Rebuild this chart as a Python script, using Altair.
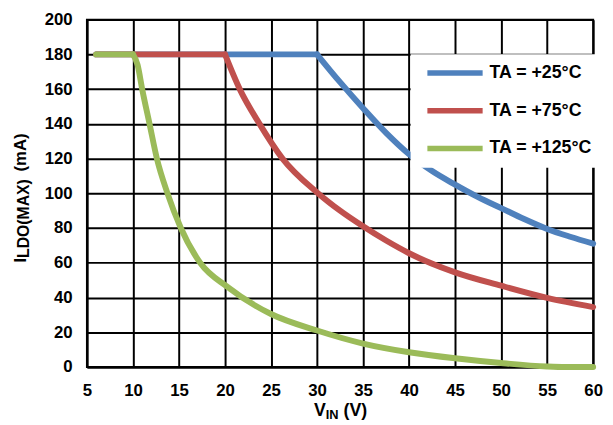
import altair as alt
import pandas as pd

series_names = ["TA = +25°C", "TA = +75°C", "TA = +125°C"]
series_colors = ["#4F81BD", "#C0504D", "#9BBB59"]

# x where each curve leaves the 180 mA limit
knee_vin = [30, 20, 10]

vin_25 = [6, 10, 15, 20, 25, 30, 32.5, 35, 37.5, 40, 42.5, 45, 47.5, 50, 52.5, 55, 57.5, 60]
ildo_25 = [180, 180, 180, 180, 180, 180, 164, 149, 134.8, 122.5, 112.8, 105, 97.8, 91.5, 85.2, 79.5, 75, 71]

vin_75 = [6, 10, 15, 20, 21.6, 23.75, 26.25, 30, 32.5, 35, 37.5, 40, 45, 50, 55, 60]
ildo_75 = [180, 180, 180, 180, 160, 140, 120, 100.5, 90, 81, 72.8, 65.5, 54.5, 46.8, 39.8, 34.5]

vin_125 = [6, 8, 10, 10.5, 11, 11.8, 12.6, 13.75, 15.2, 17.3, 20.3, 25, 30, 35, 40, 45, 50, 55, 57, 60]
ildo_125 = [180, 180, 180, 174, 160, 140, 120, 100, 80, 60, 46, 30.5, 21, 13.5, 8.5, 5, 2.3, 0.3, 0, 0]

x_ticks = [5, 10, 15, 20, 25, 30, 35, 40, 45, 50, 55, 60]
y_ticks = [0, 20, 40, 60, 80, 100, 120, 140, 160, 180, 200]

y_title_parts = ["I", "LDO(MAX)", "(mA)"]
x_title_parts = ["V", "IN", "(V)"]

FONT = "Liberation Sans"

rows = []
for s, (name, knee, xs, ys) in enumerate(zip(series_names, knee_vin,
                                             [vin_25, vin_75, vin_125],
                                             [ildo_25, ildo_75, ildo_125])):
    for i, (xv, yv) in enumerate(zip(xs, ys)):
        if xv <= knee:
            rows.append({"series": name, "vin": xv, "ildo": yv, "i": i, "key": f"{s}a"})
        if xv >= knee:
            rows.append({"series": name, "vin": xv, "ildo": yv, "i": i, "key": f"{s}b"})
df = pd.DataFrame(rows)

lines = alt.Chart(df).mark_line(
    strokeWidth=6, strokeCap="round", strokeJoin="round", interpolate="monotone"
).encode(
    x=alt.X("vin:Q", scale=alt.Scale(domain=[5, 60], nice=False),
            axis=alt.Axis(values=x_ticks, title=None, labelPadding=16, labelFlush=False)),
    y=alt.Y("ildo:Q", scale=alt.Scale(domain=[0, 200], nice=False),
            axis=alt.Axis(values=y_ticks, title=None, labelPadding=15)),
    color=alt.Color("series:N", scale=alt.Scale(domain=series_names, range=series_colors),
                    legend=alt.Legend(
                        title=None, orient="none", legendX=328, legendY=35,
                        fillColor="white", padding=10, clipHeight=18, rowPadding=20.3,
                        symbolType="stroke", symbolSize=3136, symbolStrokeWidth=5.5,
                        symbolOffset=4,
                        labelFont=FONT, labelFontSize=18, labelFontWeight="bold",
                        labelColor="black", labelOffset=4, labelLimit=300)),
    order="i:Q",
    detail="key:N",
)

one = pd.DataFrame({"k": [0]})

def txt(text, x, y, size, angle=0):
    return alt.Chart(one).mark_text(
        font=FONT, fontWeight="bold", fontSize=size, align="left",
        baseline="alphabetic", angle=angle, color="black"
    ).encode(x=alt.value(x), y=alt.value(y), text=alt.value(text))

y_title = (txt(y_title_parts[0], -62, 246, 17, 270)
           + txt(y_title_parts[1], -59, 241.5, 16, 270)
           + txt(y_title_parts[2], -62, 154, 17, 270))
x_title = (txt(x_title_parts[0], 230, 402, 18)
           + txt(x_title_parts[1], 242, 405, 13)
           + txt(x_title_parts[2], 260, 402, 18))

chart = alt.layer(lines, y_title, x_title).properties(
    width=513, height=352,
    autosize=alt.AutoSizeParams(type="none"),
    padding={"left": 80, "top": 9, "right": 12, "bottom": 57},
).configure_view(
    stroke="black", strokeWidth=2
).configure_axis(
    labelFont=FONT, labelFontSize=17, labelFontWeight="bold", labelColor="black",
    grid=True, gridColor="black", gridWidth=2, gridOpacity=1,
    domainColor="black", domainWidth=2, ticks=False,
)

chart.save("out.html", embed_options={"renderer": "svg", "actions": False})
